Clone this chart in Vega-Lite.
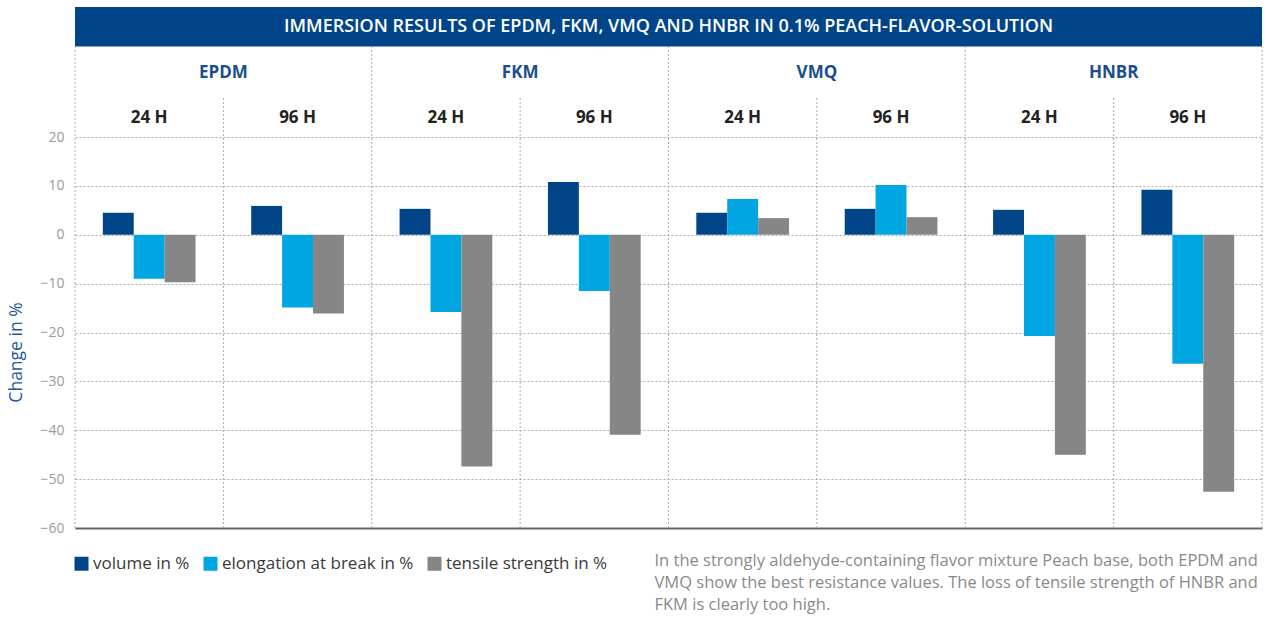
{
  "$schema": "https://vega.github.io/schema/vega-lite/v6.json",
  "width": 1187,
  "height": 521,
  "autosize": {"type": "none"},
  "padding": {"left": 75, "top": 7, "right": 12, "bottom": 95},
  "background": "white",
  "config": {"font": "Open Sans", "view": {"stroke": null}},
  "datasets": {
    "bars": [
      {"col": "EPDM 24 H", "series": "volume in %", "value": 4.5},
      {"col": "EPDM 24 H", "series": "elongation at break in %", "value": -9.0},
      {"col": "EPDM 24 H", "series": "tensile strength in %", "value": -9.7},
      {"col": "EPDM 96 H", "series": "volume in %", "value": 5.9},
      {"col": "EPDM 96 H", "series": "elongation at break in %", "value": -14.9},
      {"col": "EPDM 96 H", "series": "tensile strength in %", "value": -16.1},
      {"col": "FKM 24 H", "series": "volume in %", "value": 5.3},
      {"col": "FKM 24 H", "series": "elongation at break in %", "value": -15.8},
      {"col": "FKM 24 H", "series": "tensile strength in %", "value": -47.4},
      {"col": "FKM 96 H", "series": "volume in %", "value": 10.8},
      {"col": "FKM 96 H", "series": "elongation at break in %", "value": -11.5},
      {"col": "FKM 96 H", "series": "tensile strength in %", "value": -40.9},
      {"col": "VMQ 24 H", "series": "volume in %", "value": 4.5},
      {"col": "VMQ 24 H", "series": "elongation at break in %", "value": 7.3},
      {"col": "VMQ 24 H", "series": "tensile strength in %", "value": 3.4},
      {"col": "VMQ 96 H", "series": "volume in %", "value": 5.3},
      {"col": "VMQ 96 H", "series": "elongation at break in %", "value": 10.2},
      {"col": "VMQ 96 H", "series": "tensile strength in %", "value": 3.6},
      {"col": "HNBR 24 H", "series": "volume in %", "value": 5.1},
      {"col": "HNBR 24 H", "series": "elongation at break in %", "value": -20.7},
      {"col": "HNBR 24 H", "series": "tensile strength in %", "value": -45.0},
      {"col": "HNBR 96 H", "series": "volume in %", "value": 9.2},
      {"col": "HNBR 96 H", "series": "elongation at break in %", "value": -26.4},
      {"col": "HNBR 96 H", "series": "tensile strength in %", "value": -52.6}
    ],
    "cols": [
      {"col": "EPDM 24 H", "mat": "EPDM", "time": "24 H"},
      {"col": "EPDM 96 H", "mat": "EPDM", "time": "96 H"},
      {"col": "FKM 24 H", "mat": "FKM", "time": "24 H"},
      {"col": "FKM 96 H", "mat": "FKM", "time": "96 H"},
      {"col": "VMQ 24 H", "mat": "VMQ", "time": "24 H"},
      {"col": "VMQ 96 H", "mat": "VMQ", "time": "96 H"},
      {"col": "HNBR 24 H", "mat": "HNBR", "time": "24 H"},
      {"col": "HNBR 96 H", "mat": "HNBR", "time": "96 H"}
    ],
    "title": [{"t": "IMMERSION RESULTS OF EPDM, FKM, VMQ AND HNBR IN 0.1% PEACH-FLAVOR-SOLUTION"}],
    "note": [{"t": "In the strongly aldehyde-containing flavor mixture Peach base, both EPDM and\nVMQ show the best resistance values. The loss of tensile strength of HNBR and\nFKM is clearly too high."}]
  },
  "layer": [
    {
      "data": {"name": "bars"},
      "mark": {"type": "bar", "width": {"band": 1}},
      "encoding": {
        "x": {
          "field": "col", "type": "nominal",
          "scale": {"domain": ["EPDM 24 H", "EPDM 96 H", "FKM 24 H", "FKM 96 H", "VMQ 24 H", "VMQ 96 H", "HNBR 24 H", "HNBR 96 H"], "paddingInner": 0, "paddingOuter": 0},
          "axis": {"title": null, "labels": false, "ticks": false, "grid": false, "domain": true, "domainColor": "#666666", "domainWidth": 2, "orient": "bottom"}
        },
        "xOffset": {
          "field": "series", "type": "nominal",
          "scale": {"domain": ["volume in %", "elongation at break in %", "tensile strength in %"], "paddingInner": 0, "paddingOuter": 0.9}
        },
        "y": {
          "field": "value", "type": "quantitative",
          "scale": {"domain": [-60, 46.6], "nice": false, "zero": false},
          "axis": {
            "values": [-60, -50, -40, -30, -20, -10, 0, 10, 20],
            "grid": true, "gridDash": [2, 2], "gridColor": "#a8a8a8", "gridWidth": 1,
            "domain": false, "ticks": false,
            "labelColor": "#9a9a9a", "labelFontSize": 14, "labelPadding": 11,
            "title": "Change in %", "titleColor": "#1f5b9b", "titleFontSize": 17.5, "titleFontWeight": "normal",
            "titleAngle": -90, "titleX": -59, "titleY": 345, "titleAlign": "center", "titleBaseline": "middle"
          }
        },
        "color": {
          "field": "series", "type": "nominal",
          "scale": {"domain": ["volume in %", "elongation at break in %", "tensile strength in %"], "range": ["#004588", "#00a6e2", "#868686"]},
          "legend": {
            "orient": "none", "legendX": -2, "legendY": 548, "direction": "horizontal", "title": null,
            "symbolType": "square", "symbolSize": 196, "symbolStrokeWidth": 0, "symbolOpacity": 1,
            "labelFontSize": 17, "labelColor": "#3a3a3a", "labelLimit": 400, "columnPadding": 12, "labelOffset": 3
          }
        }
      }
    },
    {
      "data": {"name": "title"},
      "mark": {"type": "rect", "color": "#004588"},
      "encoding": {
        "y": {"datum": 38.5, "type": "quantitative"},
        "y2": {"datum": 46.6}
      }
    },
    {
      "data": {"name": "title"},
      "mark": {"type": "text", "color": "white", "fontSize": 18, "fontWeight": 600, "baseline": "middle", "align": "center"},
      "encoding": {
        "y": {"datum": 42.5, "type": "quantitative"},
        "text": {"field": "t"}
      }
    },
    {
      "data": {"name": "cols"},
      "transform": [{"filter": "datum.time === '24 H'"}],
      "mark": {"type": "rule", "color": "#a8a8a8", "strokeDash": [2, 2], "strokeWidth": 1},
      "encoding": {
        "x": {"field": "col", "type": "nominal", "bandPosition": 0},
        "y": {"datum": -60, "type": "quantitative"},
        "y2": {"datum": 38.5}
      }
    },
    {
      "data": {"name": "cols"},
      "transform": [{"filter": "datum.time === '96 H'"}],
      "mark": {"type": "rule", "color": "#a8a8a8", "strokeDash": [2, 2], "strokeWidth": 1},
      "encoding": {
        "x": {"field": "col", "type": "nominal", "bandPosition": 0},
        "y": {"datum": -60, "type": "quantitative"},
        "y2": {"datum": 28.0}
      }
    },
    {
      "data": {"name": "cols"},
      "transform": [{"filter": "datum.col === 'HNBR 96 H'"}],
      "mark": {"type": "rule", "color": "#a8a8a8", "strokeDash": [2, 2], "strokeWidth": 1},
      "encoding": {
        "x": {"field": "col", "type": "nominal", "bandPosition": 1},
        "y": {"datum": -60, "type": "quantitative"},
        "y2": {"datum": 38.5}
      }
    },
    {
      "data": {"name": "cols"},
      "transform": [{"filter": "datum.time === '96 H'"}],
      "mark": {"type": "text", "color": "#1a4e8c", "fontSize": 17, "fontWeight": "bold", "baseline": "middle", "align": "center"},
      "encoding": {
        "x": {"field": "col", "type": "nominal", "bandPosition": 0},
        "y": {"datum": 33.1, "type": "quantitative"},
        "text": {"field": "mat"}
      }
    },
    {
      "data": {"name": "cols"},
      "mark": {"type": "text", "color": "#222222", "fontSize": 17, "fontWeight": "bold", "baseline": "middle", "align": "center"},
      "encoding": {
        "x": {"field": "col", "type": "nominal", "bandPosition": 0.5},
        "y": {"datum": 23.9, "type": "quantitative"},
        "text": {"field": "time"}
      }
    },
    {
      "data": {"name": "note"},
      "mark": {"type": "text", "color": "#8a8a8a", "fontSize": 16.5, "align": "left", "baseline": "top", "lineBreak": "\n", "lineHeight": 22, "dx": -14},
      "encoding": {
        "y": {"datum": -65.2, "type": "quantitative"},
        "text": {"field": "t"}
      }
    }
  ]
}
